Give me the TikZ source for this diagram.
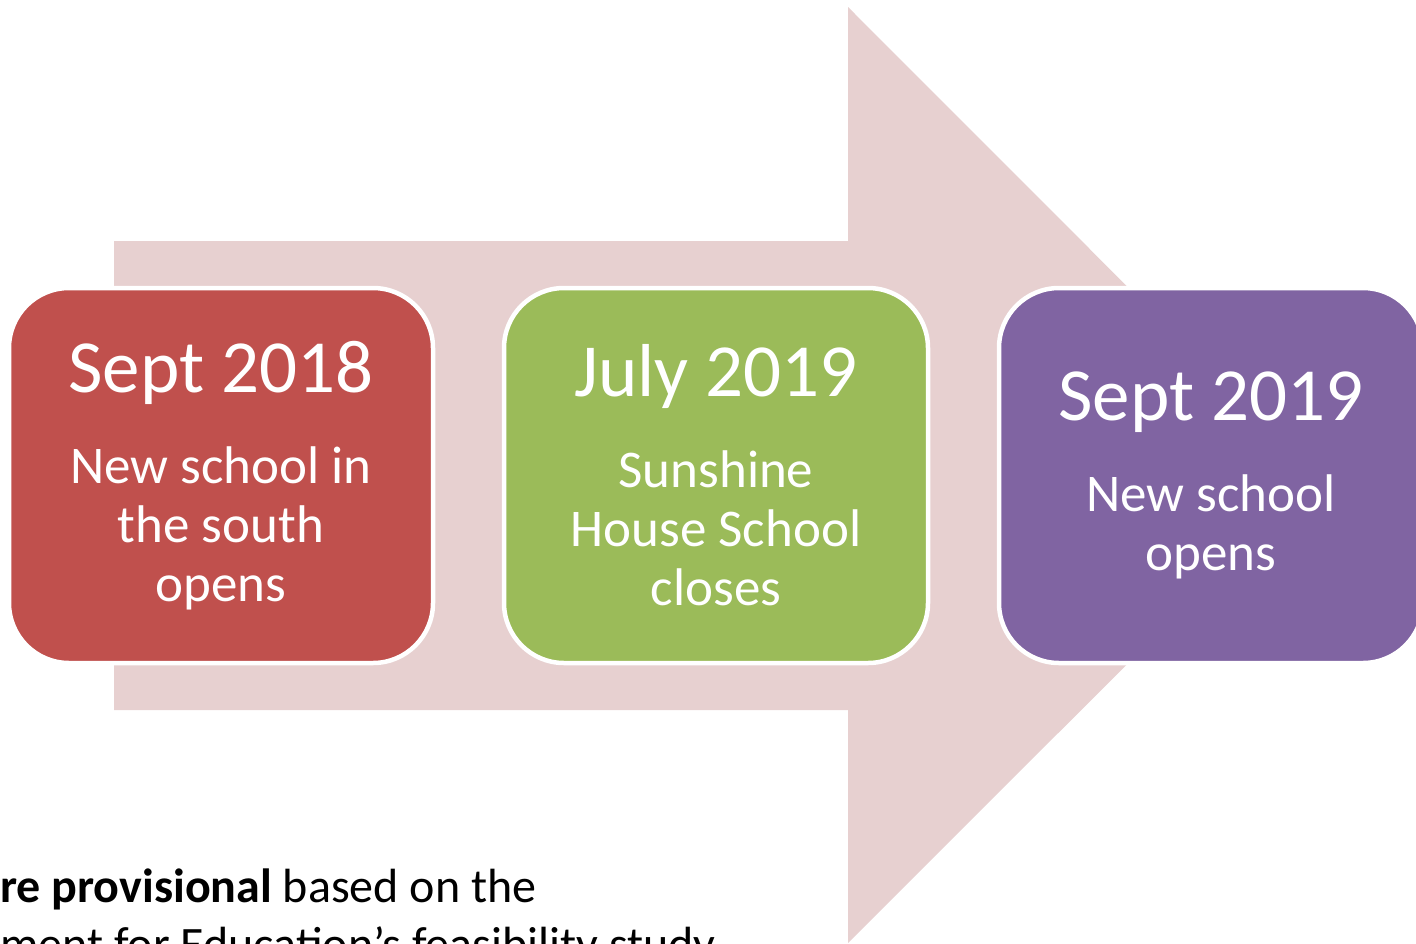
\documentclass[tikz,border=0pt]{standalone}
\usepackage{fontspec}
\setmainfont{Carlito}
\usetikzlibrary{positioning}
\definecolor{arrowpink}{HTML}{E7D0D0}
\definecolor{redbox}{HTML}{C0504D}
\definecolor{greenbox}{HTML}{9BBB59}
\definecolor{purplebox}{HTML}{8064A2}
\tikzstyle{milestone} = [rectangle, rounded corners=60pt, minimum width=424pt, minimum height=375pt, text centered, align=center, draw=white, line width=4.5pt, text=white, font=\fontsize{53}{59}\selectfont]
\tikzstyle{note} = [inner sep=0pt, align=left, font=\fontsize{48}{58}\selectfont]
\newcommand{\datetitle}[1]{{\fontsize{75}{75}\selectfont #1}\\[32pt]}

\begin{document}
\begin{tikzpicture}[x=1pt, y=-1pt, node distance=495pt]
\useasboundingbox (0,0) rectangle (1416,943);
\clip (0,0) rectangle (1416,943);
% big arrow behind the boxes
\fill [arrowpink] (114,241) -- (848,241) -- (848,7) -- (1316,475.5) -- (848,943) -- (848,710) -- (114,710) -- cycle;

\node (sept18) [milestone, fill=redbox] at (221,475.5) {\datetitle{Sept 2018}New school in\\the south\\opens};
\node (july19) [milestone, fill=greenbox, right of=sept18] {\datetitle{July 2019}Sunshine\\House School\\closes};
\node (sept19) [milestone, fill=purplebox, right of=july19] {\datetitle{Sept 2019}New school\\opens};

\node (dates) [note, anchor=base west] at (0,960) {\textbf{re provisional} based on the\\ment for Education’s feasibility study};
\end{tikzpicture}
\end{document}
